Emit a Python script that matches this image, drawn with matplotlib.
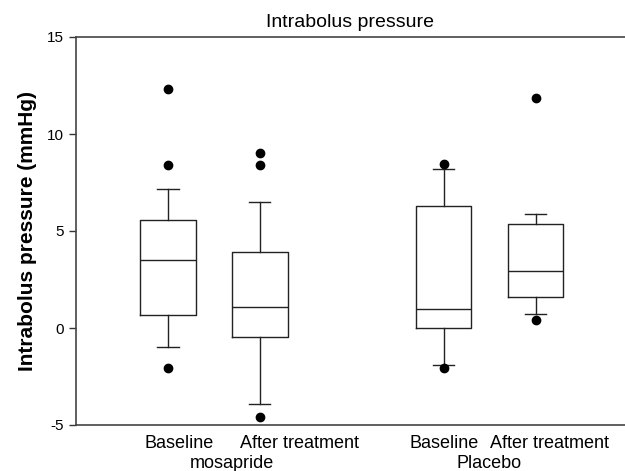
import matplotlib
matplotlib.use("Agg")
import matplotlib.pyplot as plt

plt.rcParams['font.family'] = ['Liberation Sans', 'DejaVu Sans']
plt.rcParams['axes.unicode_minus'] = False

# данные
positions = [1, 2, 4, 5]
q1 = [0.65, -0.45, 0.0, 1.58]
med = [3.5, 1.07, 1.0, 2.92]
q3 = [5.57, 3.9, 6.3, 5.38]
whislo = [-0.98, -3.93, -1.92, 0.72]
whishi = [7.16, 6.51, 8.2, 5.89]
fliers = [[12.33, 8.42, -2.05], [9.04, 8.42, -4.57], [8.44, -2.08], [11.84, 0.43]]

tick_labels = ['Baseline', 'After treatment', 'Baseline', 'After treatment']
tick_x = [1.12, 2.43, 4.0, 5.15]
groups = ['mosapride', 'Placebo']
group_x = [1.70, 4.49]

stats = []
for i in range(len(positions)):
    stats.append(dict(q1=q1[i], med=med[i], q3=q3[i], whislo=whislo[i],
                      whishi=whishi[i], fliers=fliers[i]))

fig = plt.figure(figsize=(6.25, 4.71), dpi=100)
ax = fig.add_axes([76 / 625, 1 - 425 / 471, 1 - 76 / 625, (425 - 37) / 471])

ln = dict(color='#222222', linewidth=1.0)
ax.bxp(stats, positions=positions, widths=0.6, capwidths=0.23,
       boxprops=ln, whiskerprops=ln, capprops=ln, medianprops=ln,
       flierprops=dict(marker='o', markerfacecolor='black', markeredgecolor='black',
                       markersize=6, linestyle='none'))

ax.set_xlim(0, 5.97)
ax.set_ylim(-5, 15)
ax.set_yticks([-5, 0, 5, 10, 15])
ax.set_xticks([])
ax.tick_params(axis='y', labelsize=11, length=5, width=1, color='#333333')
ax.spines['right'].set_visible(False)
for s in ['left', 'top', 'bottom']:
    ax.spines[s].set_color('#444444')
    ax.spines[s].set_linewidth(1.2)

for x, t in zip(tick_x, tick_labels):
    ax.text(x, -5.95, t, ha='center', va='center', fontsize=13)
for x, t in zip(group_x, groups):
    ax.text(x, -7.0, t, ha='center', va='center', fontsize=13)

ax.set_title('Intrabolus pressure', fontsize=14, pad=7)
ax.set_ylabel('Intrabolus pressure (mmHg)', fontsize=15, fontweight='bold', labelpad=7)

fig.savefig('out.png', dpi=100)
